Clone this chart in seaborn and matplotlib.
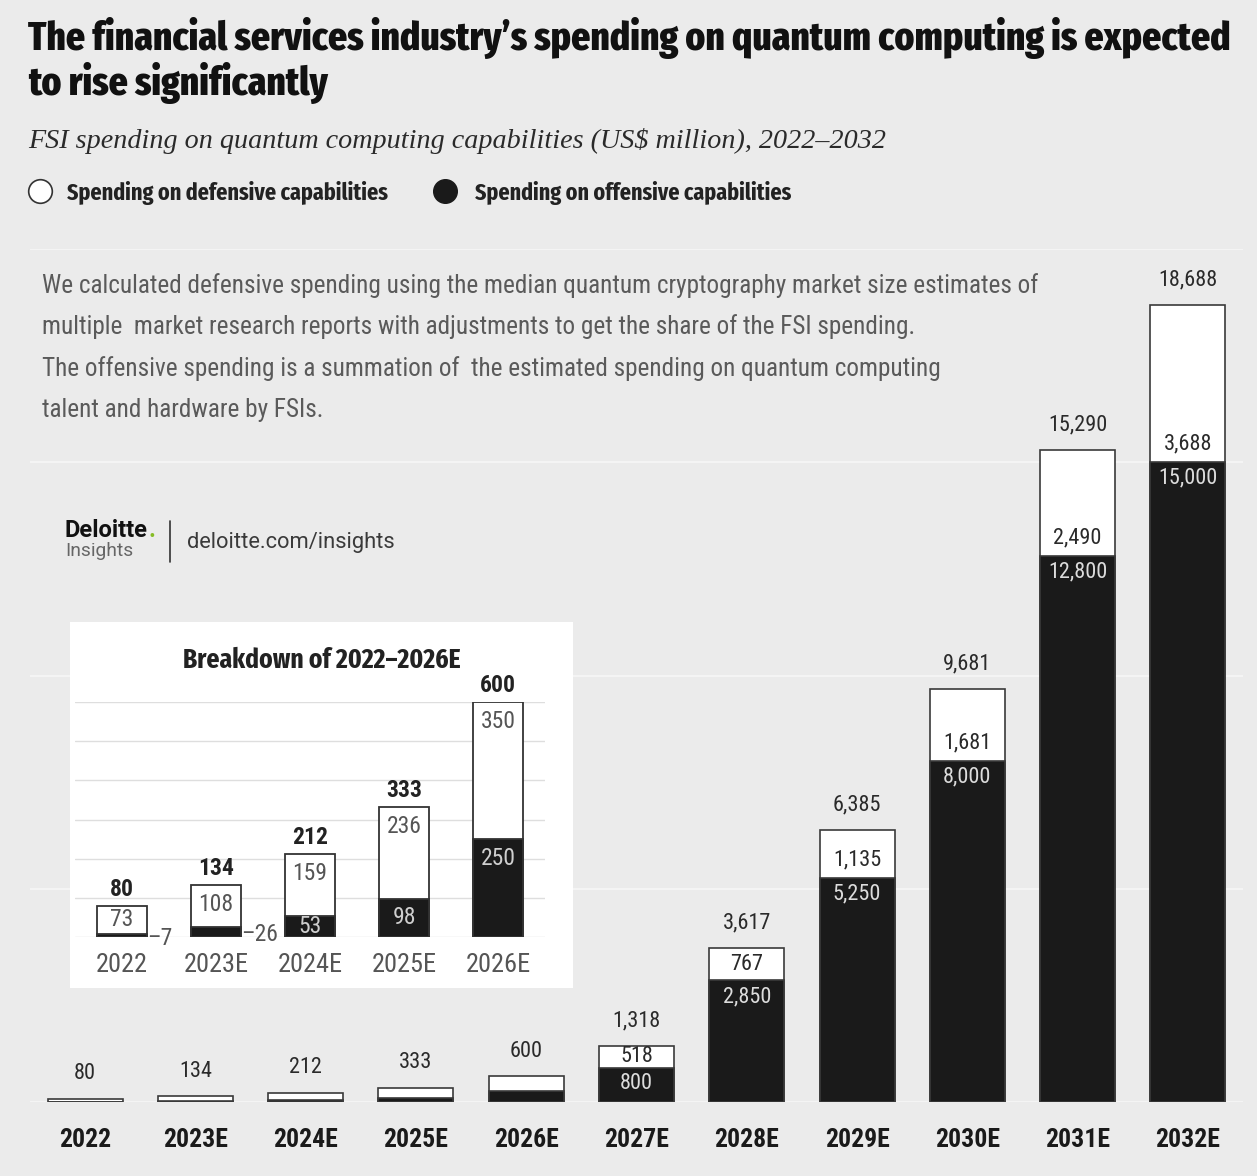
import matplotlib
matplotlib.use("Agg")
import matplotlib.pyplot as plt
import seaborn as sns
import pandas as pd
from matplotlib import font_manager
from matplotlib.lines import Line2D

# ---------------- data ----------------
years = ["2022", "2023E", "2024E", "2025E", "2026E", "2027E",
         "2028E", "2029E", "2030E", "2031E", "2032E"]
offensive = [7, 26, 53, 98, 250, 800, 2850, 5250, 8000, 12800, 15000]
defensive = [73, 108, 159, 236, 350, 518, 767, 1135, 1681, 2490, 3688]
totals = [80, 134, 212, 333, 600, 1318, 3617, 6385, 9681, 15290, 18688]
label_parts_from = 5  # main chart shows breakdown labels from 2027E on

inset_years = ["2022", "2023E", "2024E", "2025E", "2026E"]
inset_offensive = [7, 26, 53, 98, 250]
inset_defensive = [73, 108, 159, 236, 350]
inset_totals = [80, 134, 212, 333, 600]

title_lines = ["The financial services industry\u2019s spending on quantum computing is expected",
               "to rise significantly"]
subtitle = "FSI spending on quantum computing capabilities (US$ million), 2022\u20132032"
legend_labels = ["Spending on defensive capabilities", "Spending on offensive capabilities"]
note_lines = ["We calculated defensive spending using the median quantum cryptography market size estimates of",
              "multiple  market research reports with adjustments to get the share of the FSI spending.",
              "The offensive spending is a summation of  the estimated spending on quantum computing",
              "talent and hardware by FSIs."]
inset_title = "Breakdown of 2022\u20132026E"

# ---------------- style ----------------
sns.set_style("white")
avail = {f.name for f in font_manager.fontManager.ttflist}


def pick(*names):
    for n in names:
        if n in avail:
            return n
    return "DejaVu Sans"


COND = pick("Roboto Condensed", "Fira Sans Condensed", "Liberation Sans Narrow")
HEAVY = pick("Fira Sans Extra Condensed", "Barlow Condensed", "Roboto Condensed")
SERIF = pick("Liberation Serif", "DejaVu Serif")
plt.rcParams["font.family"] = [COND, "DejaVu Sans"]

BG = "#ebebeb"
BLACK = "#1a1a1a"
DARK = "#222222"
GRAY = "#5a5a5a"

W, H = 1257, 1176
fig = plt.figure(figsize=(W / 100, H / 100), dpi=100, facecolor=BG)
renderer = fig.canvas.get_renderer()


def fy(py):
    return 1 - py / H


def fit(t, target_w):
    for _ in range(3):
        w = t.get_window_extent(renderer).width
        t.set_fontsize(t.get_fontsize() * target_w / w)
    return t


# ---------------- titles ----------------
t1 = fig.text(28 / W, fy(50), title_lines[0], fontsize=30, weight=800, family=[HEAVY, "DejaVu Sans"],
              color="#111111", va="baseline")
fit(t1, 1204)
fig.text(28 / W, fy(95), title_lines[1], fontsize=t1.get_fontsize(), weight=800,
         family=[HEAVY, "DejaVu Sans"], color="#111111", va="baseline")
st = fig.text(28 / W, fy(148), subtitle, fontsize=20, style="italic", family=[SERIF, "DejaVu Serif"],
              color="#2a2a2a", va="baseline")
fit(st, 859)

# legend
fig.add_artist(Line2D([40 / W], [fy(191)], marker="o", markersize=17, markerfacecolor="white",
                      markeredgecolor="#333333", markeredgewidth=1.2, transform=fig.transFigure))
fig.add_artist(Line2D([445 / W], [fy(191)], marker="o", markersize=17, markerfacecolor=BLACK,
                      markeredgecolor=BLACK, transform=fig.transFigure))
l1 = fig.text(67 / W, fy(200), legend_labels[0], fontsize=15, weight="bold",
              family=[HEAVY, "DejaVu Sans"], color=DARK, va="baseline")
fit(l1, 321)
l2 = fig.text(475 / W, fy(200), legend_labels[1], fontsize=15, weight="bold",
              family=[HEAVY, "DejaVu Sans"], color=DARK, va="baseline")
fit(l2, 316)

# ---------------- main chart ----------------
ax = fig.add_axes([30 / W, fy(1102), 1213 / W, 853 / H])
ax.set_facecolor("none")
df = pd.DataFrame({"year": years, "offensive": offensive, "defensive": defensive, "total": totals})
sns.barplot(data=df, x="year", y="total", color="white", saturation=1, edgecolor="#3a3a3a",
            linewidth=1.2, width=0.68, ax=ax)
sns.barplot(data=df, x="year", y="offensive", color=BLACK, saturation=1, edgecolor="#3a3a3a",
            linewidth=1.2, width=0.68, ax=ax)
ax.set_xlim(-0.5, 10.5)
ax.set_ylim(0, 20000)
ax.set_yticks([0, 5000, 10000, 15000, 20000])
ax.yaxis.grid(True, color="#f6f6f6", linewidth=1.3)
ax.set_axisbelow(True)
ax.tick_params(axis="y", left=False, labelleft=False)
ax.tick_params(axis="x", length=0, pad=19, labelsize=18.5, labelcolor=BLACK)
for lab in ax.get_xticklabels():
    lab.set_fontweight("bold")
ax.set_xlabel("")
ax.set_ylabel("")
for s in ax.spines.values():
    s.set_visible(False)

ppu = 853 / 20000  # pixels per unit
for i in range(len(years)):
    ax.annotate(f"{totals[i]:,}", (i, totals[i]), xytext=(0, 25 * 0.72), textcoords="offset points",
                ha="center", va="center", fontsize=16, color="#2a2a2a")
    if i >= label_parts_from:
        dy = min(defensive[i] / 2, 18 / ppu)
        ax.annotate(f"{defensive[i]:,}", (i, offensive[i] + dy), ha="center", va="center",
                    fontsize=16, color="#2a2a2a")
        oy = min(offensive[i] / 2, 16 / ppu)
        ax.annotate(f"{offensive[i]:,}", (i, offensive[i] - oy), ha="center", va="center",
                    fontsize=16, color="#dcdcdc")

# note text
notes = []
for k, line in enumerate(note_lines):
    notes.append(fig.text(42 / W, fy(293 + k * 41.5), line, fontsize=18, color=GRAY, va="baseline"))
fit(notes[0], 995)
for t in notes[1:]:
    t.set_fontsize(notes[0].get_fontsize())

# Deloitte logo
d1 = fig.text(65 / W, fy(537), "Deloitte", fontsize=14.5, weight="bold", color="#111111",
              family=["Roboto", "DejaVu Sans"], va="baseline")
fit(d1, 83)
bb = d1.get_window_extent(renderer)
fig.text((bb.x1 + 1) / W, fy(537), ".", fontsize=d1.get_fontsize(), weight="bold", color="#86bc25",
         family=["Roboto", "DejaVu Sans"], va="baseline")
d2 = fig.text(65 / W, fy(556), "Insights", fontsize=14.5, color="#666666",
              family=["Roboto", "DejaVu Sans"], va="baseline")
fit(d2, 68)
fig.add_artist(Line2D([170 / W, 170 / W], [fy(521), fy(562)], color="#333333", lw=1.2,
                      transform=fig.transFigure))
d3 = fig.text(187 / W, fy(548), "deloitte.com/insights", fontsize=18, color="#3a3a3a",
              family=["Roboto", "DejaVu Sans"], va="baseline")
fit(d3, 208)

# ---------------- inset ----------------
box = fig.add_axes([70 / W, fy(988), 503 / W, 366 / H])
box.set_facecolor("white")
box.set_xticks([])
box.set_yticks([])
for s in box.spines.values():
    s.set_visible(False)

ia = fig.add_axes([75 / W, fy(937), 470 / W, 235 / H])
ia.set_facecolor("none")
idf = pd.DataFrame({"year": inset_years, "offensive": inset_offensive,
                    "defensive": inset_defensive, "total": inset_totals})
sns.barplot(data=idf, x="year", y="total", color="white", saturation=1, edgecolor="#333333",
            linewidth=1.3, width=0.53, ax=ia)
sns.barplot(data=idf, x="year", y="offensive", color=BLACK, saturation=1, edgecolor="#333333",
            linewidth=1.3, width=0.53, ax=ia)
ia.set_xlim(-0.5, 4.5)
ia.set_ylim(0, 600)
ia.set_yticks(range(0, 601, 100))
ia.yaxis.grid(True, color="#dedede", linewidth=1.0)
ia.set_axisbelow(True)
ia.tick_params(axis="y", left=False, labelleft=False)
ia.tick_params(axis="x", length=0, pad=11.5, labelsize=19, labelcolor="#555555")
ia.set_xlabel("")
ia.set_ylabel("")
for s in ia.spines.values():
    s.set_visible(False)

ippu = 235 / 600
for i in range(len(inset_years)):
    ia.annotate(f"{inset_totals[i]:,}", (i, inset_totals[i]), xytext=(0, 16 * 0.72),
                textcoords="offset points", ha="center", va="center", fontsize=17,
                weight="bold", color=DARK)
    dy = min(inset_defensive[i] / 2, 20 / ippu)
    ia.annotate(f"{inset_defensive[i]:,}", (i, inset_totals[i] - dy), ha="center", va="center",
                fontsize=17, color="#555555")
    if inset_offensive[i] * ippu >= 18:
        oy = min(inset_offensive[i] / 2, 19 / ippu)
        ia.annotate(f"{inset_offensive[i]:,}", (i, inset_offensive[i] - oy), ha="center",
                    va="center", fontsize=17, color="#cfcfcf")
    else:
        ia.annotate(f"\u2013{inset_offensive[i]:,}", (i + 0.265, inset_offensive[i] / 2),
                    xytext=(0, -2), textcoords="offset points",
                    ha="left", va="center", fontsize=17, color="#555555")

it = fig.text(322 / W, fy(668), inset_title, fontsize=18, weight="bold",
              family=[HEAVY, "DejaVu Sans"], color=DARK, ha="center", va="baseline")
fit(it, 277)

fig.savefig("out.png", dpi=100, facecolor=BG)
